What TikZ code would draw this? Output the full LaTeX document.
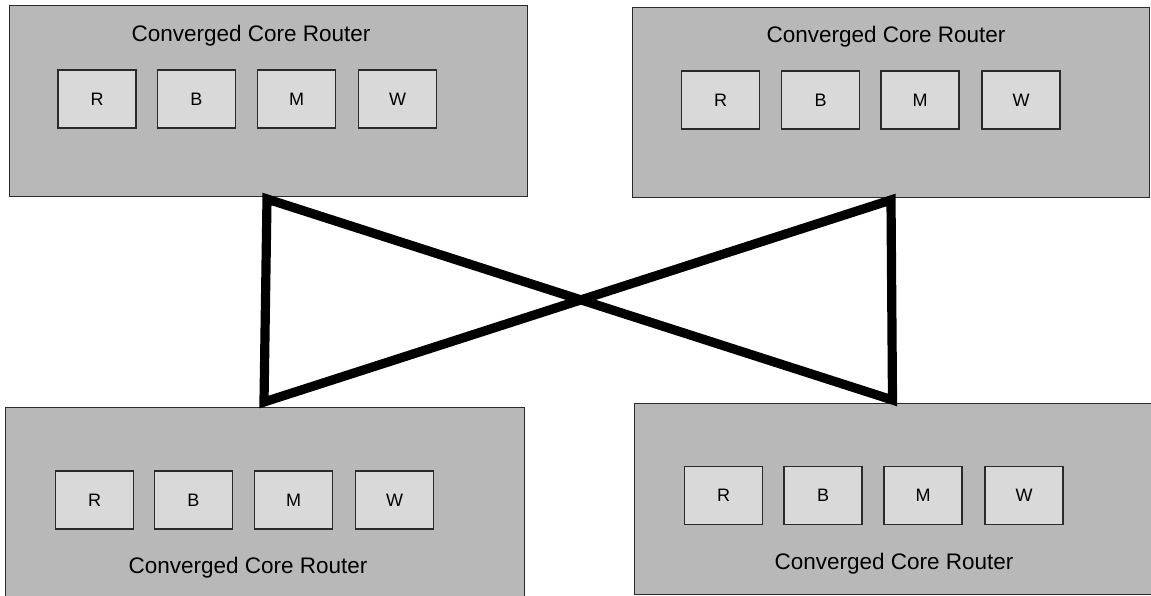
\documentclass[tikz,border=0pt]{standalone}
\usepackage{fontspec}
\setmainfont{Liberation Sans}
\definecolor{routergray}{HTML}{B8B8B8}
\definecolor{modulegray}{HTML}{D9D9D9}
\definecolor{edgegray}{HTML}{2A2A2A}
\begin{document}
\begin{tikzpicture}[x=1pt,y=-1pt,
  router/.style={draw=edgegray, line width=1.3pt, fill=routergray,
    inner sep=0pt, anchor=north west},
  module/.style={draw=edgegray, line width=1.3pt, fill=modulegray,
    inner sep=0pt, minimum width=78pt, minimum height=58pt,
    font=\fontsize{18}{20}\selectfont},
  title/.style={inner sep=0pt, font=\fontsize{22.5}{26}\selectfont},
  link/.style={draw=black, line width=9.2pt, line join=miter}]
  \clip (0,0) rectangle (1151,596);

  % router chassis
  \node[router, minimum width=518pt, minimum height=191pt] (tl) at (8.6,5) {};
  \node[router, minimum width=517pt, minimum height=190pt] (tr) at (632,7) {};
  \node[router, minimum width=519pt, minimum height=205pt] (bl) at (5,407) {};
  \node[router, minimum width=540pt, minimum height=191pt] (br) at (634,403) {};

  % router titles
  \node[title] (tlt) at (251,36) {Converged Core Router};
  \node[title] (trt) at (886,37) {Converged Core Router};
  \node[title] (blt) at (248,568) {Converged Core Router};
  \node[title] (brt) at (894,564) {Converged Core Router};

  % line cards in each router
  \node[module] (tlr) at (97,99)    {R};
  \node[module] (tlb) at (196.5,99) {B};
  \node[module] (tlm) at (296.5,99) {M};
  \node[module] (tlw) at (397.5,99) {W};

  \node[module] (trr) at (720.5,100) {R};
  \node[module] (trb) at (820.5,100) {B};
  \node[module] (trm) at (920,100)   {M};
  \node[module] (trw) at (1021,100)  {W};

  \node[module] (blr) at (94.5,500)  {R};
  \node[module] (blb) at (193.5,500) {B};
  \node[module] (blm) at (293.5,500) {M};
  \node[module] (blw) at (394.5,500) {W};

  \node[module] (brr) at (723.5,495.5) {R};
  \node[module] (brb) at (823,495.5)   {B};
  \node[module] (brm) at (923,495.5)   {M};
  \node[module] (brw) at (1024,495.5)  {W};

  % attachment points of the interconnect on each chassis
  \coordinate (ptl) at (267,199);
  \coordinate (pbl) at (264,402);
  \coordinate (ptr) at (891,200);
  \coordinate (pbr) at (892.5,400);

  % bow-tie interconnect between the four routers
  \draw[link] (ptl) -- (pbl) -- (ptr) -- (pbr) -- cycle;
\end{tikzpicture}
\end{document}
